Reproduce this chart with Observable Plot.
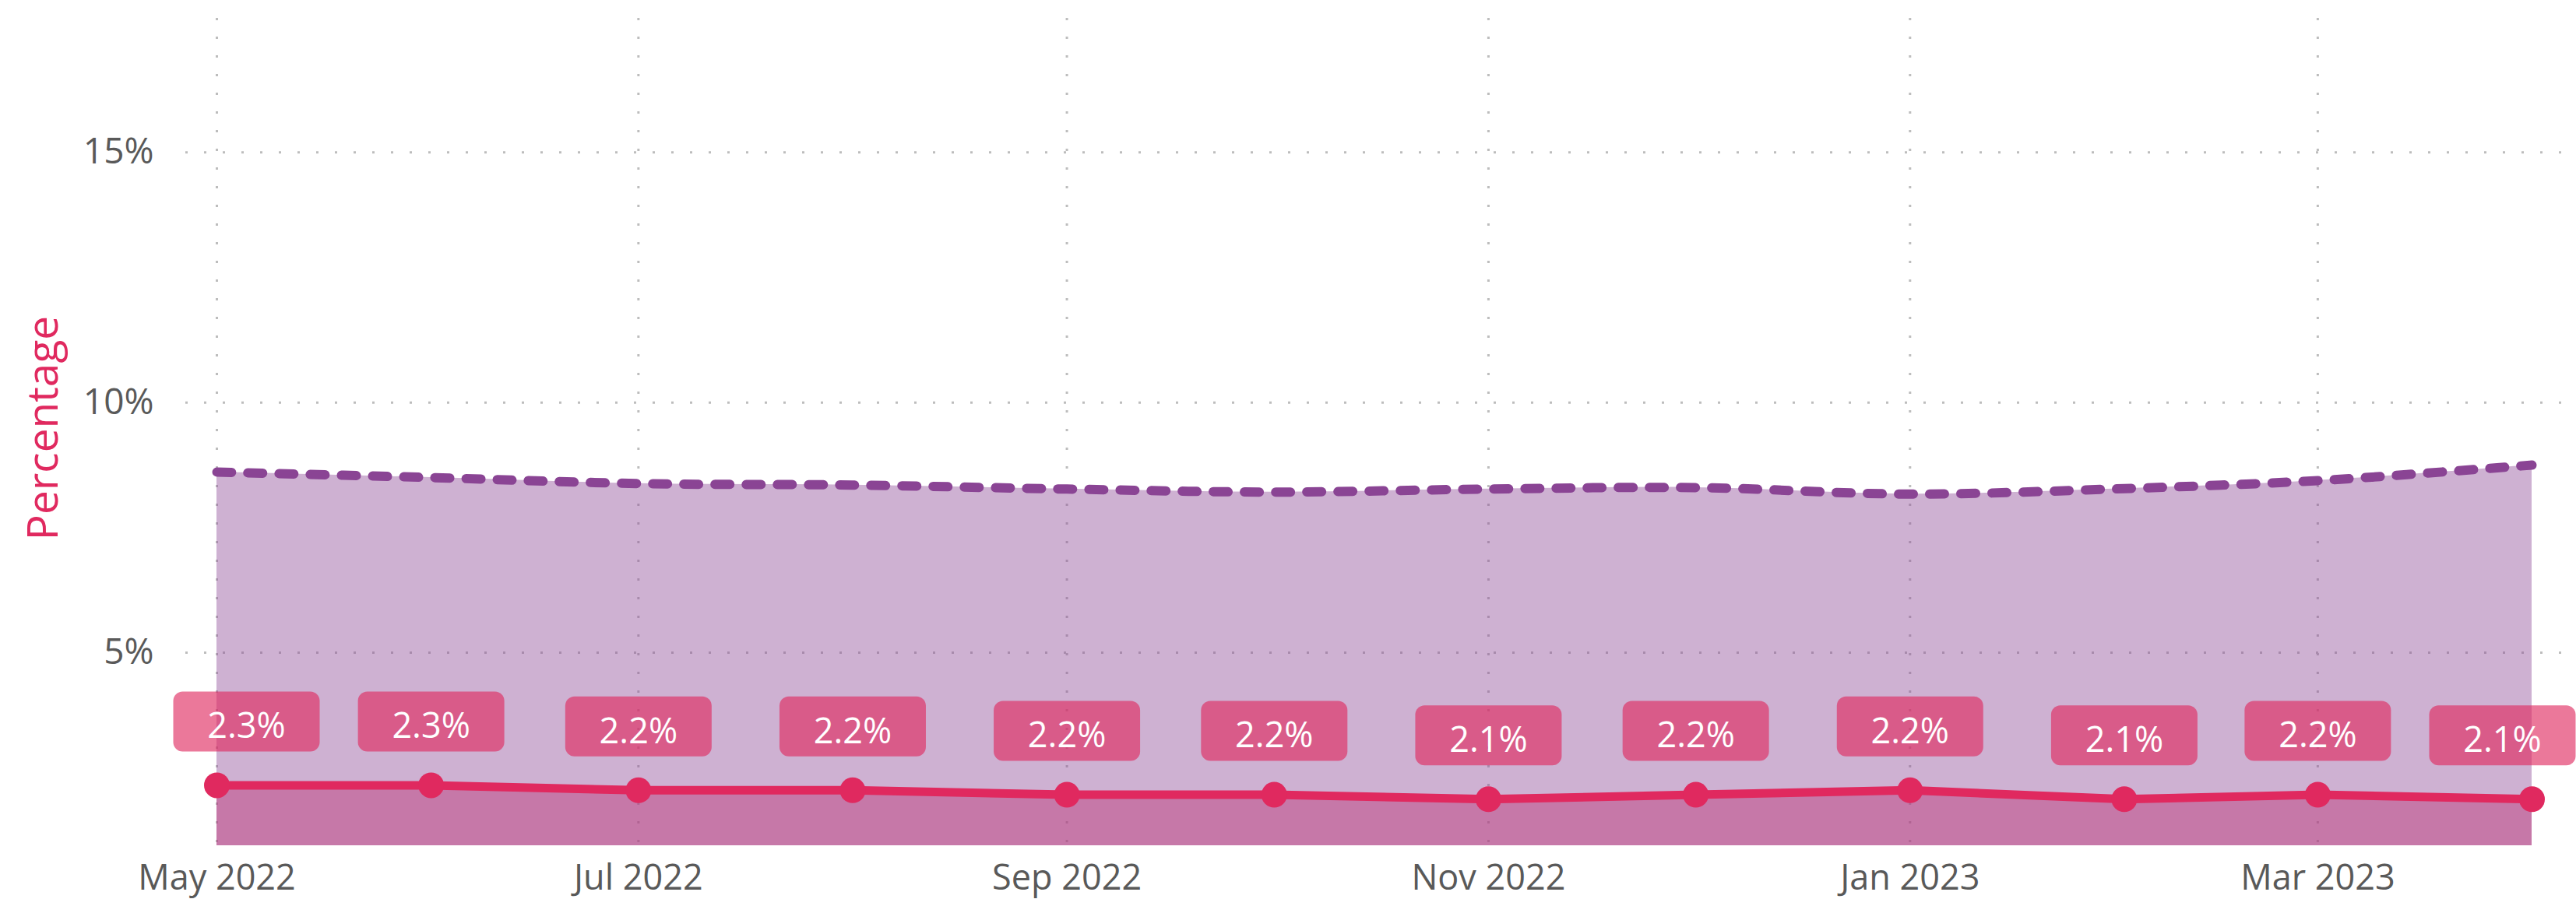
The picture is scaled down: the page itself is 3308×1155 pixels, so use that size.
<!DOCTYPE html>
<html>
<head>
<meta charset="utf-8">
<script src="https://cdn.jsdelivr.net/npm/d3@7"></script>
<script src="https://cdn.jsdelivr.net/npm/@observablehq/plot@0.6"></script>
<style>
  html, body { margin: 0; padding: 0; background: #ffffff; }
  #chart svg { display: block; }
</style>
</head>
<body>
<div id="chart"></div>
<script>
// ---- data ----
const months = ["2022-05-01","2022-06-01","2022-07-01","2022-08-01","2022-09-01","2022-10-01",
                "2022-11-01","2022-12-01","2023-01-01","2023-02-01","2023-03-01","2023-04-01"];
const rateValues = [2.349, 2.349, 2.249, 2.249, 2.16, 2.16, 2.07, 2.16, 2.249, 2.07, 2.16, 2.07];
const benchmarkValues = [8.61, 8.50, 8.38, 8.35, 8.27, 8.21, 8.27, 8.30, 8.17, 8.28, 8.44, 8.75];
const xTickLabels = ["2022-05-01","2022-07-01","2022-09-01","2022-11-01","2023-01-01","2023-03-01"];
const yTicks = [5, 10, 15];
const yDomain = [1.142, 17.68];
const yLabel = "Percentage";

// ---- styles ----
const pink = "#E0295F";
const purple = "#8A4494";
const gridColor = "#BDBDBD";
const textColor = "#595959";
const font = "'Segoe UI', 'Open Sans', 'Noto Sans', sans-serif";

const data = months.map((m, i) => ({
  date: new Date(m),
  rate: rateValues[i],
  bench: benchmarkValues[i],
  label: d3.format(".1f")(rateValues[i]) + "%",
  i
}));
const xTickDates = xTickLabels.map(d => new Date(d));
const last = data.length - 1;

// rounded-rectangle symbol for the data label boxes
const BW = 188, BH = 77, BR = 12;
const labelBox = {
  draw(ctx) {
    const x0 = -BW / 2, y0 = -BH / 2, x1 = BW / 2, y1 = BH / 2;
    ctx.moveTo(x0 + BR, y0);
    ctx.lineTo(x1 - BR, y0);
    ctx.arcTo(x1, y0, x1, y0 + BR, BR);
    ctx.lineTo(x1, y1 - BR);
    ctx.arcTo(x1, y1, x1 - BR, y1, BR);
    ctx.lineTo(x0 + BR, y1);
    ctx.arcTo(x0, y1, x0, y1 - BR, BR);
    ctx.lineTo(x0, y0 + BR);
    ctx.arcTo(x0, y0, x0 + BR, y0, BR);
    ctx.closePath();
  }
};

const boxOpts = {x: "date", y: "rate", symbol: labelBox, r: 1, fill: pink, fillOpacity: 0.63, stroke: null, dy: -82};
const txtOpts = {x: "date", y: "rate", text: "label", fill: "white", fontSize: 45, dy: -75};

const chart = Plot.plot({
  width: 3308,
  height: 1155,
  marginLeft: 238,
  marginRight: 19,
  marginTop: 23,
  marginBottom: 69,
  insetLeft: 40,
  insetRight: 38,
  x: {type: "utc", domain: [data[0].date, data[last].date]},
  y: {domain: yDomain},
  style: {fontFamily: font, fontSize: "46px", color: textColor, background: "white"},
  marks: [
    Plot.gridX(xTickDates, {stroke: gridColor, strokeOpacity: 1, strokeWidth: 3, strokeDasharray: "3,21"}),
    Plot.gridY(yTicks, {stroke: gridColor, strokeOpacity: 1, strokeWidth: 3, strokeDasharray: "3,21"}),
    Plot.areaY(data, {x: "date", y: "rate", fill: pink, fillOpacity: 0.45, clip: true}),
    Plot.areaY(data, {x: "date", y: "bench", fill: purple, fillOpacity: 0.42, curve: "catmull-rom", clip: true}),
    Plot.lineY(data, {x: "date", y: "bench", stroke: purple, strokeWidth: 12, strokeDasharray: "19,21",
                      strokeLinecap: "round", curve: "catmull-rom"}),
    Plot.lineY(data, {x: "date", y: "rate", stroke: pink, strokeWidth: 11}),
    Plot.dot(data, {x: "date", y: "rate", r: 16.5, fill: pink, stroke: null}),
    // label boxes (first and last nudged inward to stay inside the chart)
    Plot.dot(data, {...boxOpts, filter: d => d.i > 0 && d.i < last}),
    Plot.dot(data, {...boxOpts, filter: d => d.i === 0, dx: 38}),
    Plot.dot(data, {...boxOpts, filter: d => d.i === last, dx: -38}),
    Plot.text(data, {...txtOpts, filter: d => d.i > 0 && d.i < last}),
    Plot.text(data, {...txtOpts, filter: d => d.i === 0, dx: 38}),
    Plot.text(data, {...txtOpts, filter: d => d.i === last, dx: -38}),
    Plot.axisX(xTickDates, {tickSize: 0, tickPadding: 25, tickFormat: d3.utcFormat("%b %Y"), label: null, fontSize: 45}),
    Plot.axisY(yTicks, {tickSize: 0, tickPadding: 41, tickFormat: d => d + "%", label: null, fontSize: 46}),
    Plot.text([yLabel], {frameAnchor: "left", textAnchor: "middle", rotate: -90, dx: -182, dy: -5, fill: pink, fontSize: 55})
  ]
});

document.getElementById("chart").appendChild(chart);
</script>
</body>
</html>
